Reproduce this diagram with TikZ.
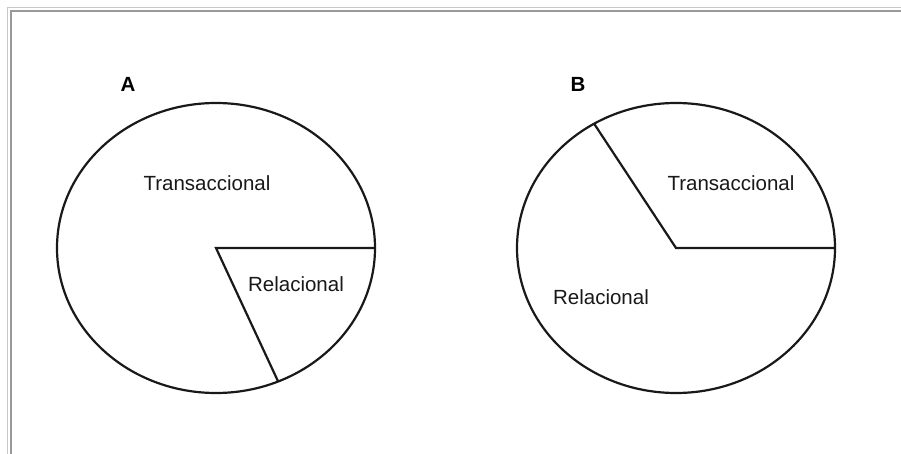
\documentclass[tikz,border=0pt]{standalone}
\usepackage{fontspec}
\setmainfont{Liberation Sans}
\usetikzlibrary{calc}
\begin{document}
\begin{tikzpicture}[x=1pt,y=-1pt,
  pie/.style={line width=2.2pt, draw=black!90},
  label/.style={font=\fontsize{20.5}{24}\selectfont, text=black!90, inner sep=0pt},
  title/.style={font=\fontsize{20.5}{24}\selectfont\bfseries, inner sep=0pt}]
\useasboundingbox (0,0) rectangle (901,454);
\fill[white] (0,0) rectangle (901,454);
% frame
\draw[line width=1.5pt, draw=black!22] (7.5,460) -- (7.5,7.5) -- (910,7.5);
\draw[line width=2.2pt, draw=black!40] (11,460) -- (11,11) -- (910,11);

% chart A
\coordinate (cA) at (216,248);
\coordinate (rA) at ($(cA)+(159pt,0pt)$);
\path (cA) ++(-67:159pt and 145pt) coordinate (sA);
\draw[pie] (cA) ellipse [x radius=159pt, y radius=145pt];
\draw[pie, line join=miter] (rA) -- (cA) -- (sA);
\node[title] (tA) at (128,84) {A};
\node[label] (tA1) at (207,183) {Transaccional};
\node[label] (tA2) at (296,284) {Relacional};

% chart B
\coordinate (cB) at (676,248);
\coordinate (rB) at ($(cB)+(159pt,0pt)$);
\path (cB) ++(121:159pt and 145pt) coordinate (sB);
\draw[pie] (cB) ellipse [x radius=159pt, y radius=145pt];
\draw[pie, line join=miter] (sB) -- (cB) -- (rB);
\node[title] (tB) at (578,84) {B};
\node[label] (tB1) at (731,183) {Transaccional};
\node[label] (tB2) at (601,297) {Relacional};
\end{tikzpicture}
\end{document}
